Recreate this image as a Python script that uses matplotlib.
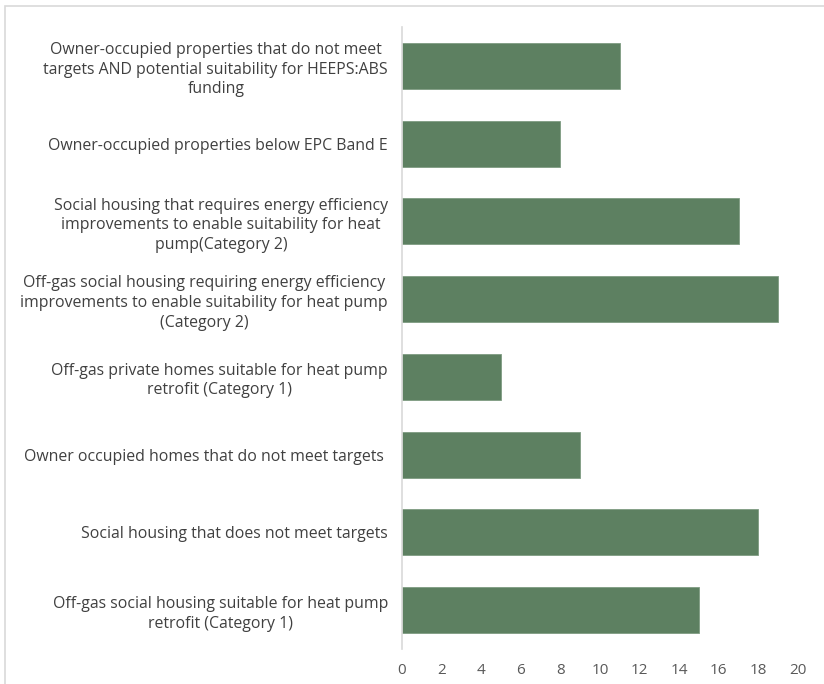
import matplotlib
matplotlib.use("Agg")
import matplotlib.pyplot as plt
from matplotlib.patches import Rectangle

categories = [
    "Owner-occupied properties that do not meet\ntargets AND potential suitability for HEEPS:ABS\nfunding",
    "Owner-occupied properties below EPC Band E",
    "Social housing that requires energy efficiency\nimprovements to enable suitability for heat\npump(Category 2)",
    "Off-gas social housing requiring energy efficiency\nimprovements to enable suitability for heat pump\n(Category 2)",
    "Off-gas private homes suitable for heat pump\nretrofit (Category 1)",
    "Owner occupied homes that do not meet targets ",
    "Social housing that does not meet targets",
    "Off-gas social housing suitable for heat pump\nretrofit (Category 1)",
]
values = [11, 8, 17, 19, 5, 9, 18, 15]
xticks = [0, 2, 4, 6, 8, 10, 12, 14, 16, 18, 20]

plt.rcParams['font.family'] = ['Open Sans', 'DejaVu Sans']

fig = plt.figure(figsize=(8.24, 6.84), dpi=100)
fig.patches.append(Rectangle((5/824, -0.1), 1.2, 1 - 6/684 + 0.1, transform=fig.transFigure,
                             fill=False, edgecolor='#d9d9d9', linewidth=1.2))
ax = fig.add_axes([402/824, 1 - 649/684, 396/824, 622/684])

pos = list(range(len(categories)))
ax.barh(pos, values, height=0.59, color='#5d8061', edgecolor='#7f9c82', linewidth=0.6)
ax.set_ylim(len(categories) - 0.5, -0.5)
ax.set_xlim(0, 20)
ax.set_xticks(xticks)
ax.set_xticklabels([str(t) for t in xticks], color='#595959', fontsize=11)
ax.set_yticks(pos)
ax.set_yticklabels(categories, color='#404040', fontsize=11.4, linespacing=1.3)
for lab in ax.get_yticklabels():
    lab.set_multialignment('center')
ax.tick_params(axis='both', length=0)
ax.tick_params(axis='y', pad=10)
ax.tick_params(axis='x', pad=10)
for s in ['top', 'right', 'bottom']:
    ax.spines[s].set_visible(False)
ax.spines['left'].set_color('#d9d9d9')
ax.spines['left'].set_linewidth(1.2)

fig.savefig('out.png', dpi=100)
